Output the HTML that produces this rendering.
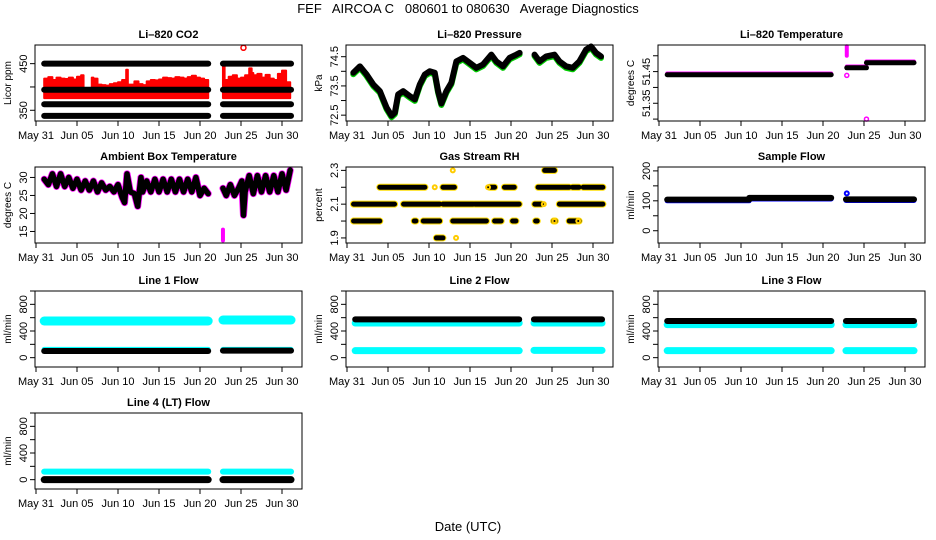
<!DOCTYPE html>
<html><head><meta charset="utf-8">
<style>
html,body{margin:0;padding:0;background:#fff;}
svg{display:block;font-family:"Liberation Sans",sans-serif;}
</style></head>
<body>
<svg id="chart" width="936" height="540" viewBox="0 0 936 540">
<text x="468" y="13" font-size="13" text-anchor="middle" xml:space="preserve">FEF   AIRCOA C   080601 to 080630   Average Diagnostics</text>
<text x="468" y="531" font-size="13" text-anchor="middle">Date (UTC)</text>
</svg>
<script>
// ---- shared x axis data ----
const xTickDays = [0,5,10,15,20,25,30];
const xTickLabels = ['May 31','Jun 05','Jun 10','Jun 15','Jun 20','Jun 25','Jun 30'];
const segStarts = [1.0, 22.8];
const segEnds = [21.0, 31.1];

// ---- CO2 ----
const co2Levels = [450, 394, 363, 338];
const co2RedBase = 376;
const co2RedDaysA = [1.0,1.5,2,2.5,3,3.5,4,4.5,5,5.5,5.8,6.0,6.8,7,7.5,8,8.5,9,9.5,10,10.5,11,11.2,11.5,12,12.5,13,13.5,14,14.5,15,15.5,16,16.5,17,17.5,18,18.5,19,19.5,20,20.5,21];
const co2RedTopsA = [418,421,415,420,418,417,420,416,422,425,395,395,420,418,405,404,403,406,408,410,415,437,405,405,412,406,404,412,415,414,416,420,419,418,421,420,418,421,424,420,418,415,412];
const co2RedDaysB = [22.8,23,23.5,24,24.5,25,25.5,26,26.3,26.5,27,27.5,28,28.5,29,29.5,30,30.5,31];
const co2RedTopsB = [445,415,422,425,418,420,425,440,430,425,428,420,426,418,415,428,435,410,405];
const co2OutlierDay = [25.3];
const co2OutlierVal = [484];

// ---- Pressure ----
const presDaysA = [0.77,1.58,2.39,3.2,4.01,4.82,5.43,5.84,6.24,6.85,7.66,8.27,8.88,9.49,10.09,10.7,11.11,11.51,12.12,12.73,13.34,14.15,14.96,15.77,16.58,17.6,18.21,19.02,19.83,20.64,21.05];
const presValsA = [73.95,74.17,73.89,73.55,73.32,72.76,72.48,72.59,73.21,73.32,73.15,73.04,73.55,73.89,74.0,73.95,73.32,72.9,73.32,73.61,74.34,74.46,74.29,74.12,74.23,74.57,74.34,74.17,74.46,74.57,74.63];
const presDaysB = [22.87,23.48,24.29,25.3,25.91,26.72,27.53,28.34,29.15,29.76,30.37,30.98];
const presValsB = [74.57,74.34,74.51,74.57,74.34,74.17,74.12,74.34,74.74,74.85,74.63,74.51];

// ---- Li-820 temperature ----
const tempStarts = [1.0, 22.9, 25.3];
const tempEnds = [21.0, 25.3, 31.1];
const tempVals = [51.44, 51.462, 51.478];
const tempSpikeDay = [22.9];
const tempSpikeLo = [51.50];
const tempSpikeHi = [51.53];
const tempOutDays = [22.9, 25.3];
const tempOutVals = [51.438, 51.30];

// ---- Ambient box temperature ----
const ambDaysA = [1.0,1.5,2.0,2.5,3.0,3.5,4.0,4.5,5.0,5.5,6.0,6.5,7.0,7.5,8.0,8.5,9.0,9.5,10.0,10.5,10.8,11.1,11.5,12,12.4,12.8,13,13.5,14,14.5,15,15.5,16,16.5,17,17.5,18,18.5,19,19.5,20,20.5,21];
const ambValsA = [29.5,28,31,27.5,31,27.5,30,27,29.5,26.5,29,26.5,29,26,28.5,26.5,27.5,26,28,24.5,23,31,26,25.5,22,30,26,29,26,29.5,26,29.5,26,29.5,26,29.5,26,29.5,26,30,25,27,25.5];
const ambDaysB = [22.8,23.2,23.7,24.2,24.7,25.1,25.3,25.5,26,26.5,27,27.5,28,28.5,29,29.5,30,30.5,31];
const ambValsB = [27,25,28,25,27,29,19.5,26,30.5,25.5,30.5,26,30.5,26,30.5,26,31,26.5,32];
const ambMagDay = [22.8];
const ambMagLo = [12.5];
const ambMagHi = [15.5];

// ---- Gas stream RH ----
const rhLevels = [2.2,2.2,2.2,2.2,2.2,2.2,2.2, 2.1,2.1,2.1,2.1,2.1,2.1, 2.0,2.0,2.0,2.0,2.0,2.0,2.0,2.0,2.0, 2.3,1.9];
const rhStarts = [4.0,11.7,17.4,19.2,23.3,27.5,28.8, 0.8,6.9,11.7,15.6,22.9,25.9, 0.8,8.2,9.3,12.9,18.0,20.2,23.0,25.2,27.1, 24.1,10.9];
const rhEnds   = [9.5,13.1,18.0,20.4,27.1,28.3,31.2, 5.8,11.3,15.4,21.0,23.7,31.2, 4.0,8.4,11.3,17.0,18.8,20.6,23.2,25.4,28.3, 25.3,11.7];
const rhYellowDays = [10.7,12.9,13.3,25.3,24.0,17.2,28.2];
const rhYellowVals = [2.2,2.3,1.9,2.0,2.1,2.2,2.0];

// ---- Sample flow ----
const sampStarts = [1.0, 11.0, 22.8];
const sampEnds = [11.0, 21.0, 31.1];
const sampVals = [104, 110, 105];
const sampBlueDay = [22.9];
const sampBlueVal = [125];

// ---- Line flows (one value per segment) ----
const l1CyanHi = [550, 565];
const l1CyanLo = [125, 125];
const l1Black = [100, 105];
const l2Black = [575, 575];
const l2CyanHi = [520, 520];
const l2CyanLo = [105, 110];
const l3Black = [550, 550];
const l3CyanHi = [495, 495];
const l3CyanLo = [105, 105];
const l4Cyan = [120, 120];
const l4Black = [0, 0];

const NS = 'http://www.w3.org/2000/svg';
const svg = document.getElementById('chart');
function el(tag, parent){ const e = document.createElementNS(NS, tag); (parent||svg).appendChild(e); return e; }

function panel(name, title, ylab, left, top, ymin, ymax, ticks, labels){
  const w = 267, h = 76;
  const g = el('g');
  
  
  const X = d => left + 1 + d * 8.2;
  const Y = v => top + h - (v - ymin) / (ymax - ymin) * h;
  const plot = el('g', g);
  
  
  const box = el('rect', g);
  
  
  box.setAttribute('x', left); box.setAttribute('y', top);
  box.setAttribute('width', w); box.setAttribute('height', h);
  box.setAttribute('fill', 'none'); box.setAttribute('stroke', '#000');
  const t = el('text', g);
  
  
  t.setAttribute('x', left + w/2); t.setAttribute('y', top - 7);
  t.setAttribute('text-anchor', 'middle'); t.setAttribute('font-size', '11'); t.setAttribute('font-weight', 'bold');
  t.textContent = title;
  const xa = el('g', g);
  
  
  const axl = el('line', xa);
  axl.setAttribute('x1', X(xTickDays[0])); axl.setAttribute('x2', X(xTickDays[xTickDays.length-1]));
  axl.setAttribute('y1', top + h); axl.setAttribute('y2', top + h); axl.setAttribute('stroke', '#000');
  xTickDays.forEach((d, i) => {
    const tk = el('line', xa);
    
    
    tk.setAttribute('x1', X(d)); tk.setAttribute('x2', X(d));
    tk.setAttribute('y1', top + h); tk.setAttribute('y2', top + h + 5); tk.setAttribute('stroke', '#000');
    const lb = el('text', xa);
    
    
    lb.setAttribute('x', X(d)); lb.setAttribute('y', top + h + 18);
    lb.setAttribute('text-anchor', 'middle'); lb.setAttribute('font-size', '11');
    lb.textContent = xTickLabels[i];
  });
  const ya = el('g', g);
  
  
  const ayl = el('line', ya);
  ayl.setAttribute('x1', left); ayl.setAttribute('x2', left);
  ayl.setAttribute('y1', Y(ticks[0])); ayl.setAttribute('y2', Y(ticks[ticks.length-1])); ayl.setAttribute('stroke', '#000');
  ticks.forEach((v, i) => {
    const tk = el('line', ya);
    
    
    tk.setAttribute('x1', left - 5); tk.setAttribute('x2', left);
    tk.setAttribute('y1', Y(v)); tk.setAttribute('y2', Y(v)); tk.setAttribute('stroke', '#000');
    if (labels[i] !== '') {
      const lb = el('text', ya);
      
      
      const lx = left - 8, ly = Y(v);
      lb.setAttribute('x', lx); lb.setAttribute('y', ly);
      lb.setAttribute('text-anchor', 'middle'); lb.setAttribute('font-size', '11');
      lb.setAttribute('transform', 'rotate(-90 ' + lx + ' ' + ly + ')');
      lb.textContent = labels[i];
    }
  });
  const yl = el('text', ya);
  
  
  const yx = left - 24, yy = top + h/2;
  yl.setAttribute('x', yx); yl.setAttribute('y', yy);
  yl.setAttribute('text-anchor', 'middle'); yl.setAttribute('font-size', '10');
  yl.setAttribute('transform', 'rotate(-90 ' + yx + ' ' + yy + ')');
  yl.textContent = ylab;
  return {X, Y, plot};
}

function seg(p, name, d1, v1, d2, v2, color, width){
  const l = el('line', p.plot);
  
  
  l.setAttribute('x1', p.X(d1)); l.setAttribute('x2', p.X(d2));
  l.setAttribute('y1', p.Y(v1)); l.setAttribute('y2', p.Y(v2));
  l.setAttribute('stroke', color); l.setAttribute('stroke-width', width); l.setAttribute('stroke-linecap', 'round');
}
function poly(p, name, days, vals, color, width, dy){
  const l = el('polyline', p.plot);
  
  
  l.setAttribute('points', days.map((d, i) => p.X(d) + ',' + (p.Y(vals[i]) + (dy||0))).join(' '));
  l.setAttribute('fill', 'none'); l.setAttribute('stroke', color); l.setAttribute('stroke-width', width);
  l.setAttribute('stroke-linecap', 'round'); l.setAttribute('stroke-linejoin', 'round');
}
function circ(p, name, d, v, color, r, sw){
  const c = el('circle', p.plot);
  
  
  c.setAttribute('cx', p.X(d)); c.setAttribute('cy', p.Y(v)); c.setAttribute('r', r);
  c.setAttribute('fill', 'none'); c.setAttribute('stroke', color); c.setAttribute('stroke-width', sw);
}
function area(p, name, days, tops, base, color){
  const pa = el('path', p.plot);
  
  
  let s = 'M' + p.X(days[0]) + ',' + p.Y(base);
  days.forEach((d, i) => {
    s += ' L' + p.X(d) + ',' + p.Y(tops[i]);
    if (i < days.length - 1) s += ' L' + p.X(days[i+1]) + ',' + p.Y(tops[i]);
  });
  s += ' L' + p.X(days[days.length-1]) + ',' + p.Y(base) + ' Z';
  pa.setAttribute('d', s); pa.setAttribute('fill', color);
  pa.setAttribute('stroke', color); pa.setAttribute('stroke-width', 2); pa.setAttribute('stroke-linejoin', 'round');
}

const C = [35, 346, 658];
const R = [45, 167, 291, 413];

const p1 = panel('co2', 'Li\u2013820 CO2', 'Licor ppm', C[0], R[0], 327, 490, [350,400,450], ['350','','450']);
area(p1, 'co2-red-series-a', co2RedDaysA, co2RedTopsA, co2RedBase, '#ff0000');
area(p1, 'co2-red-series-b', co2RedDaysB, co2RedTopsB, co2RedBase, '#ff0000');
co2Levels.forEach(v => { segStarts.forEach((s, i) => seg(p1, 'co2-black-band', s, v, segEnds[i], v, '#000', 6)); });
co2OutlierDay.forEach((d, i) => circ(p1, 'co2-outlier', d, co2OutlierVal[i], '#ff0000', 2.5, 1.5));

const p2 = panel('pressure', 'Li\u2013820 Pressure', 'kPa', C[1], R[0], 72.3, 74.9, [72.5,73,73.5,74,74.5], ['72.5','','73.5','','74.5']);
poly(p2, 'pressure-green-a', presDaysA, presValsA, '#00cc00', 6, 1.5);
poly(p2, 'pressure-green-b', presDaysB, presValsB, '#00cc00', 6, 1.5);
poly(p2, 'pressure-series-a', presDaysA, presValsA, '#000', 6, 0);
poly(p2, 'pressure-series-b', presDaysB, presValsB, '#000', 6, 0);

const p3 = panel('li820-temp', 'Li\u2013820 Temperature', 'degrees C', C[2], R[0], 51.294, 51.534, [51.30,51.35,51.40,51.45,51.50], ['','51.35','','51.45','']);
tempVals.forEach((v, i) => seg(p3, 'temp-magenta-edge', tempStarts[i], v + 0.004, tempEnds[i], v + 0.004, '#ff00ff', 4));
tempVals.forEach((v, i) => seg(p3, 'temp-series', tempStarts[i], v, tempEnds[i], v, '#000', 5));
tempSpikeDay.forEach((d, i) => seg(p3, 'temp-spike', d, tempSpikeLo[i], d, tempSpikeHi[i], '#ff00ff', 4));
tempOutDays.forEach((d, i) => circ(p3, 'temp-outlier', d, tempOutVals[i], '#ff00ff', 2, 1.5));

const p4 = panel('ambient-temp', 'Ambient Box Temperature', 'degrees C', C[0], R[1], 11.8, 32.9, [15,20,25,30], ['15','20','25','30']);
poly(p4, 'ambient-magenta-a', ambDaysA, ambValsA, '#ff00ff', 7, 0);
poly(p4, 'ambient-magenta-b', ambDaysB, ambValsB, '#ff00ff', 7, 0);
poly(p4, 'ambient-series-a', ambDaysA, ambValsA, '#000', 5.5, 0);
poly(p4, 'ambient-series-b', ambDaysB, ambValsB, '#000', 5.5, 0);
ambMagDay.forEach((d, i) => seg(p4, 'ambient-magenta-low', d, ambMagLo[i], d, ambMagHi[i], '#ff00ff', 4));

const p5 = panel('gas-rh', 'Gas Stream RH', 'percent', C[1], R[1], 1.87, 2.32, [1.9,2.0,2.1,2.2,2.3], ['1.9','','2.1','','2.3']);
rhLevels.forEach((v, i) => seg(p5, 'rh-yellow-edge', rhStarts[i], v, rhEnds[i], v, '#ffdd00', 7));
rhLevels.forEach((v, i) => seg(p5, 'rh-series', rhStarts[i], v, rhEnds[i], v, '#000', 5));
rhYellowDays.forEach((d, i) => circ(p5, 'rh-yellow-point', d, rhYellowVals[i], '#ffcc00', 2, 2));

const p6 = panel('sample-flow', 'Sample Flow', 'ml/min', C[2], R[1], -41, 213, [0,50,100,150,200], ['0','','100','','200']);
sampVals.forEach((v, i) => seg(p6, 'sample-blue-edge', sampStarts[i], v - 4, sampEnds[i], v - 4, '#0000ff', 5));
sampVals.forEach((v, i) => seg(p6, 'sample-series', sampStarts[i], v, sampEnds[i], v, '#000', 6));
sampBlueDay.forEach((d, i) => circ(p6, 'sample-blue-point', d, sampBlueVal[i], '#0000ff', 2, 2));

const flowTicks = [0,200,400,600,800,1000];
const flowLabels = ['0','','400','','800',''];
function flowBand(p, name, vals, color, width){
  vals.forEach((v, i) => seg(p, name, segStarts[i], v, segEnds[i], v, color, width));
}
const p7 = panel('line1', 'Line 1 Flow', 'ml/min', C[0], R[2], -140, 1000, flowTicks, flowLabels);
flowBand(p7, 'line1-cyan-high', l1CyanHi, '#00ffff', 9);
flowBand(p7, 'line1-cyan-low', l1CyanLo, '#00ffff', 5);
flowBand(p7, 'line1-black', l1Black, '#000', 6);
const p8 = panel('line2', 'Line 2 Flow', 'ml/min', C[1], R[2], -140, 1000, flowTicks, flowLabels);
flowBand(p8, 'line2-cyan-high', l2CyanHi, '#00ffff', 7);
flowBand(p8, 'line2-cyan-low', l2CyanLo, '#00ffff', 7);
flowBand(p8, 'line2-black', l2Black, '#000', 6);
const p9 = panel('line3', 'Line 3 Flow', 'ml/min', C[2], R[2], -140, 1000, flowTicks, flowLabels);
flowBand(p9, 'line3-cyan-high', l3CyanHi, '#00ffff', 7);
flowBand(p9, 'line3-cyan-low', l3CyanLo, '#00ffff', 7);
flowBand(p9, 'line3-black', l3Black, '#000', 6);
const p10 = panel('line4', 'Line 4 (LT) Flow', 'ml/min', C[0], R[3], -140, 1000, flowTicks, flowLabels);
flowBand(p10, 'line4-cyan', l4Cyan, '#00ffff', 6);
flowBand(p10, 'line4-black', l4Black, '#000', 7);
</script>
</body></html>
